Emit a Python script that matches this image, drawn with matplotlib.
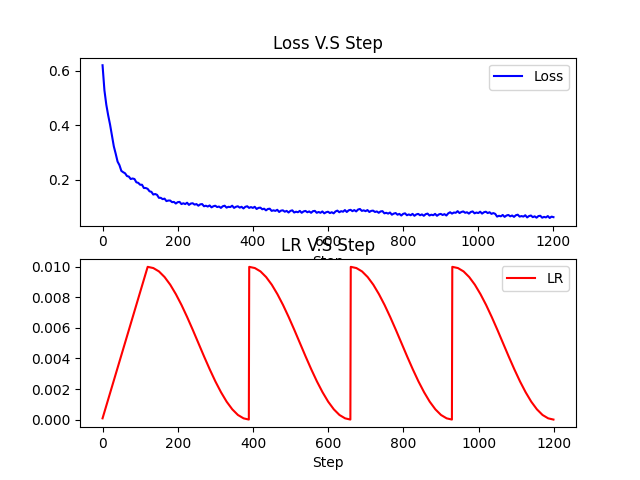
import numpy as np
import matplotlib
matplotlib.use('Agg')
import matplotlib.pyplot as plt

# loss every 5 steps (noise included)
loss_steps = np.arange(0, 1201, 5)
loss_values = [
    0.620, 0.528, 0.475, 0.436, 0.402, 0.361, 0.322, 0.295, 0.266, 0.253,
    0.232, 0.227, 0.223, 0.213, 0.211, 0.202, 0.204, 0.202, 0.190, 0.188,
    0.181, 0.181, 0.169, 0.169, 0.166, 0.157, 0.155, 0.145, 0.147, 0.144,
    0.133, 0.133, 0.128, 0.130, 0.121, 0.123, 0.123, 0.117, 0.118, 0.112,
    0.117, 0.118, 0.110, 0.113, 0.110, 0.115, 0.107, 0.112, 0.113, 0.108,
    0.110, 0.104, 0.109, 0.110, 0.102, 0.104, 0.101, 0.105, 0.098, 0.102,
    0.104, 0.099, 0.101, 0.096, 0.102, 0.104, 0.097, 0.100, 0.099, 0.104,
    0.096, 0.100, 0.102, 0.097, 0.100, 0.094, 0.100, 0.102, 0.096, 0.099,
    0.096, 0.100, 0.092, 0.096, 0.097, 0.091, 0.093, 0.087, 0.092, 0.093,
    0.085, 0.087, 0.085, 0.089, 0.081, 0.086, 0.087, 0.082, 0.085, 0.079,
    0.085, 0.087, 0.079, 0.082, 0.080, 0.085, 0.078, 0.083, 0.085, 0.080,
    0.083, 0.078, 0.084, 0.085, 0.078, 0.081, 0.078, 0.083, 0.076, 0.080,
    0.082, 0.077, 0.080, 0.076, 0.083, 0.086, 0.080, 0.084, 0.082, 0.088,
    0.081, 0.087, 0.089, 0.084, 0.088, 0.083, 0.090, 0.092, 0.085, 0.087,
    0.084, 0.088, 0.081, 0.085, 0.086, 0.081, 0.083, 0.078, 0.083, 0.084,
    0.076, 0.078, 0.075, 0.079, 0.071, 0.075, 0.077, 0.071, 0.074, 0.068,
    0.074, 0.076, 0.069, 0.072, 0.069, 0.074, 0.067, 0.072, 0.074, 0.069,
    0.072, 0.067, 0.073, 0.075, 0.068, 0.071, 0.069, 0.074, 0.067, 0.072,
    0.074, 0.070, 0.073, 0.068, 0.076, 0.080, 0.075, 0.079, 0.078, 0.084,
    0.077, 0.081, 0.083, 0.078, 0.080, 0.075, 0.081, 0.083, 0.076, 0.079,
    0.077, 0.082, 0.075, 0.080, 0.082, 0.077, 0.080, 0.074, 0.077, 0.074,
    0.064, 0.067, 0.065, 0.070, 0.063, 0.068, 0.070, 0.065, 0.068, 0.063,
    0.069, 0.071, 0.064, 0.066, 0.064, 0.069, 0.061, 0.066, 0.068, 0.062,
    0.065, 0.060, 0.066, 0.067, 0.060, 0.063, 0.061, 0.066, 0.059, 0.064,
    0.062,
]

# learning rate: warmup then cosine restarts
lr_steps = [
    0, 120, 135, 150, 165, 180, 195, 210, 225, 240, 255, 270, 285, 300, 315, 330, 345, 360, 375, 389,
    390, 405, 420, 435, 450, 465, 480, 495, 510, 525, 540, 555, 570, 585, 600, 615, 630, 645, 659,
    660, 675, 690, 705, 720, 735, 750, 765, 780, 795, 810, 825, 840, 855, 870, 885, 900, 915, 929,
    930, 945, 960, 975, 990, 1005, 1020, 1035, 1050, 1065, 1080, 1095, 1110, 1125, 1140, 1155, 1170, 1185, 1199,
]
lr_values = [
    0.00008, 0.01000, 0.00992, 0.00970, 0.00933, 0.00883, 0.00821, 0.00750, 0.00671, 0.00587,
    0.00500, 0.00413, 0.00329, 0.00250, 0.00179, 0.00117, 0.00067, 0.00030, 0.00008, 0.00000,
    0.01000, 0.00992, 0.00970, 0.00933, 0.00883, 0.00821, 0.00750, 0.00671, 0.00587, 0.00500,
    0.00413, 0.00329, 0.00250, 0.00179, 0.00117, 0.00067, 0.00030, 0.00008, 0.00000,
    0.01000, 0.00992, 0.00970, 0.00933, 0.00883, 0.00821, 0.00750, 0.00671, 0.00587, 0.00500,
    0.00413, 0.00329, 0.00250, 0.00179, 0.00117, 0.00067, 0.00030, 0.00008, 0.00000,
    0.01000, 0.00992, 0.00970, 0.00933, 0.00883, 0.00821, 0.00750, 0.00671, 0.00587, 0.00500,
    0.00413, 0.00329, 0.00250, 0.00179, 0.00117, 0.00067, 0.00030, 0.00008, 0.00000,
]

fig = plt.figure(figsize=(6.4, 4.8), dpi=100)

plt.subplot(2, 1, 1)
plt.plot(loss_steps, loss_values, 'b', label='Loss')
plt.title('Loss V.S Step')
plt.xlabel('Step')
plt.legend(loc='upper right')

plt.subplot(2, 1, 2)
plt.plot(lr_steps, lr_values, 'r', label='LR')
plt.title('LR V.S Step')
plt.xlabel('Step')
plt.legend(loc='upper right')

plt.savefig('out.png')
